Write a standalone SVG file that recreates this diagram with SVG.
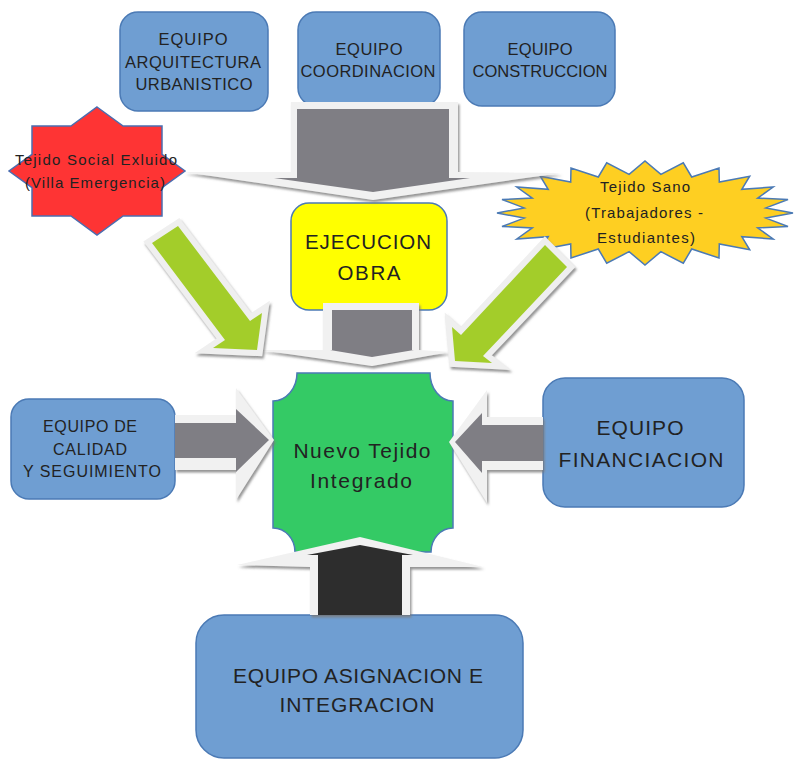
<svg xmlns="http://www.w3.org/2000/svg" width="795" height="760" viewBox="0 0 795 760">
<defs>
<style>
.t{font-family:"Liberation Sans",Arial,sans-serif;fill:#222;text-anchor:middle}
.box{fill:#6f9ed2;stroke:#4b7ab5;stroke-width:1.5}
.light{fill:#f1f1f1;filter:url(#sh)}
.gray{fill:#7f7e84}
.green{fill:#a3cd2b;stroke:#efefef;stroke-width:12;stroke-linejoin:miter;stroke-miterlimit:4;paint-order:stroke;filter:url(#sh)}
</style>
<filter id="sh" x="-20%" y="-20%" width="140%" height="140%">
<feDropShadow dx="1.5" dy="2.5" stdDeviation="1.2" flood-color="#7a7a7a" flood-opacity="0.8"/>
</filter>
</defs>
<rect width="795" height="760" fill="#ffffff"/>

<g id="nodes">
<g id="arquitectura">
<rect class="box" x="120" y="12" width="148" height="99" rx="18"/>
<text class="t" font-size="16.5" x="193" y="45" textLength="69" lengthAdjust="spacing">EQUIPO</text>
<text class="t" font-size="16.5" x="193" y="68" textLength="136" lengthAdjust="spacing">ARQUITECTURA</text>
<text class="t" font-size="16.5" x="194" y="90" textLength="117" lengthAdjust="spacing">URBANISTICO</text>
</g>
<g id="coordinacion">
<rect class="box" x="298" y="12" width="142" height="94" rx="18"/>
<text class="t" font-size="16.5" x="369" y="55" textLength="67" lengthAdjust="spacing">EQUIPO</text>
<text class="t" font-size="16.5" x="368" y="77" textLength="135" lengthAdjust="spacing">COORDINACION</text>
</g>
<g id="construccion">
<rect class="box" x="464" y="12" width="151" height="94" rx="18"/>
<text class="t" font-size="16.5" x="540" y="55" textLength="65" lengthAdjust="spacing">EQUIPO</text>
<text class="t" font-size="16.5" x="540" y="77" textLength="135" lengthAdjust="spacing">CONSTRUCCION</text>
</g>
<g id="tejido-excluido">
<polygon points="97,107 123.1,126 162,126 162,154.3 185,171 162,187.7 162,216 123.1,216 97,235 70.9,216 32,216 32,187.7 9,171 32,154.3 32,126 70.9,126" fill="#fe3434" stroke="#4b6db0" stroke-width="1.5"/>
<text class="t" font-size="15" x="96" y="165" textLength="162" lengthAdjust="spacing">Tejido Social Exluido</text>
<text class="t" font-size="15" x="95" y="188" textLength="140" lengthAdjust="spacing">(Villa Emergencia)</text>
</g>
<g id="tejido-sano">
<polygon points="793,213 765.9,218.1 788,226.5 757.7,227.9 773.2,239 741.8,236.7 749.7,249.8 719.3,243.9 719,258 691.7,249 683.3,263.2 660.9,251.7 645,265 629.1,251.7 606.7,263.2 598.3,249 571,258 570.7,243.9 540.3,249.8 548.2,236.7 516.8,239 532.3,227.9 502,226.5 524.1,218.1 497,213 524.1,207.9 502,199.5 532.3,198.1 516.8,187 548.2,189.3 540.3,176.2 570.7,182.1 571,168 598.3,177 606.7,162.8 629.1,174.3 645,161 660.9,174.3 683.3,162.8 691.7,177 719,168 719.3,182.1 749.7,176.2 741.8,189.3 773.2,187 757.7,198.1 788,199.5 765.9,207.9" fill="#fecf22" stroke="#4b7ab5" stroke-width="1.5"/>
<text class="t" font-size="15" x="645" y="192" textLength="90" lengthAdjust="spacing">Tejido Sano</text>
<text class="t" font-size="15" x="644" y="218" textLength="118" lengthAdjust="spacing">(Trabajadores -</text>
<text class="t" font-size="15" x="646" y="243" textLength="98" lengthAdjust="spacing">Estudiantes)</text>
</g>
<g id="ejecucion">
<rect x="291" y="203" width="156" height="107" rx="18" fill="#ffff00" stroke="#4b7ab5" stroke-width="1.5"/>
<text class="t" font-size="20.5" x="368" y="249" textLength="126" lengthAdjust="spacing">EJECUCION</text>
<text class="t" font-size="20.5" x="369" y="280" textLength="63" lengthAdjust="spacing">OBRA</text>
</g>
<g id="nuevo-tejido">
<path d="M297,373 L430,373 A23,28 0 0 0 453,401 L453,528 A22,24 0 0 0 431,552 L295,552 A22,24 0 0 0 273,528 L273,401 A24,28 0 0 0 297,373 Z" fill="#34ca65" stroke="#4b7ab5" stroke-width="1.5"/>
<text class="t" font-size="21" x="362" y="458" textLength="137" lengthAdjust="spacing">Nuevo Tejido</text>
<text class="t" font-size="21" x="361" y="488" textLength="102" lengthAdjust="spacing">Integrado</text>
</g>
<g id="calidad">
<rect class="box" x="11" y="399" width="164" height="100" rx="18"/>
<text class="t" font-size="16" x="90" y="432" textLength="94" lengthAdjust="spacing">EQUIPO DE</text>
<text class="t" font-size="16" x="90" y="455" textLength="74" lengthAdjust="spacing">CALIDAD</text>
<text class="t" font-size="16" x="92" y="477" textLength="138" lengthAdjust="spacing">Y SEGUIMIENTO</text>
</g>
<g id="financiacion">
<rect class="box" x="543" y="378" width="201" height="129" rx="22"/>
<text class="t" font-size="21" x="640" y="435" textLength="87" lengthAdjust="spacing">EQUIPO</text>
<text class="t" font-size="21" x="641" y="467" textLength="165" lengthAdjust="spacing">FINANCIACION</text>
</g>
<g id="asignacion">
<rect class="box" x="196" y="615" width="327" height="143" rx="28"/>
<text class="t" font-size="21" x="358" y="683" textLength="250" lengthAdjust="spacing">EQUIPO ASIGNACION E</text>
<text class="t" font-size="21" x="357" y="712" textLength="155" lengthAdjust="spacing">INTEGRACION</text>
</g>
</g>

<g id="connectors">
<polygon class="light" points="291,102 458,102 458,172 561,173 373,200 184,172 291,172"/>
<polygon class="gray" points="297,109 449,109 449,178 470,178 373,192 274,178 297,178"/>
<polygon class="light" points="323,303 419,303 419,350 450,352 372,366 260,350 323,350"/>
<polygon class="gray" points="332,310 412,310 412,350 414,350 372,357 330,350 332,350"/>
<polygon class="green" points="152,243 178,226 250,321 262,313 257,350 213,348 225,340"/>
<polygon class="green" points="545,245 567,267 483,356 492,363 455,361 452,327 461,335"/>
<polygon class="light" points="175,415 236,415 236,388 274,440 236,500 236,470 175,470"/>
<polygon class="gray" points="175,423 236,423 236,409 269,440 236,472 236,458 175,458"/>
<polygon class="light" points="543,417 487,417 487,390 449,442 487,503 487,470 543,470"/>
<polygon class="gray" points="543,425 482,425 482,413 455,442 482,473 482,461 543,461"/>
<polygon class="light" points="310,615 310,567 237,565 360,537 483,567 410,567 410,615"/>
<polygon points="318,615 318,555 307,555 360,545 413,555 402,555 402,615" fill="#2d2d2d"/>
</g>
</svg>
